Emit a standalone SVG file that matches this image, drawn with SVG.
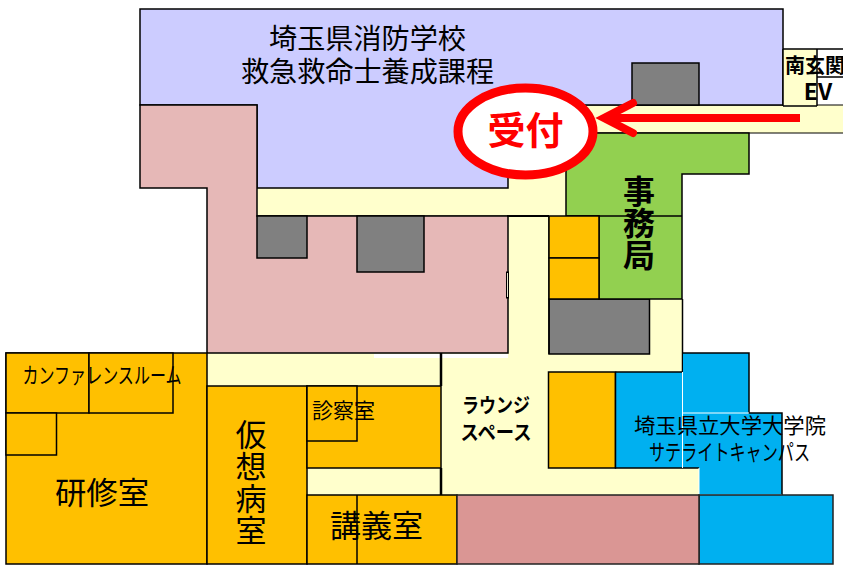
<svg xmlns="http://www.w3.org/2000/svg" width="843" height="567" viewBox="0 0 843 567">
<style>
.r{stroke:#000;stroke-width:1.5}
.o{fill:#ffc000}.y{fill:#ffffcc}.g{fill:#808080}.b{fill:#00b0f0}.p{fill:#e6b8b7}.v{fill:#ccccff}.n{fill:#92d050}
text{font-family:"Noto Sans CJK JP","Noto Sans",sans-serif;fill:#000;text-anchor:middle}
.h{font-weight:700}
.t{writing-mode:vertical-rl}
</style>
<rect width="843" height="567" fill="#fff"/>
<g id="corridors">
<polygon class="y" points="585,105 843,105 843,133 566,133 566,216 549,216 549,299 682,299 682,372 549,372 549,468 699,468 699,495 307,495 307,468 441,468 441,386 207,386 207,353 508,353 508,216 257,216 257,188 508,188 508,179 585,133"/>
<path d="M583 105H843M566 133H843M257 216H549" fill="none" stroke="#000" stroke-width="1"/>
<path d="M682.500 299V372" fill="none" stroke="#000" stroke-width="1.500"/>
</g>
<g id="gakko"><polygon class="v r" points="140,9 783,9 783,105 508,105 508,188 257,188 257,105 140,105"/>
<text x="367.500" y="49" font-size="28" textLength="197" lengthAdjust="spacingAndGlyphs">埼玉県消防学校</text>
<text x="367.500" y="82" font-size="28" textLength="253" lengthAdjust="spacingAndGlyphs">救急救命士養成課程</text></g>
<g id="pink"><polygon class="p r" points="140,105 257,105 257,216 508,216 508,353 207,353 207,188 140,188"/></g>
<g id="grays">
<rect class="g r" x="632" y="63" width="67" height="42"/>
<rect class="g r" x="257" y="216" width="50" height="42"/>
<rect class="g r" x="357" y="216" width="67" height="56"/>
<rect class="g r" x="549" y="299" width="100.500" height="55"/>
</g>
<rect id="door" x="506.500" y="272" width="2" height="26" fill="#e6e6d0" stroke="#000" stroke-width="1"/>
<path id="corridor-top" d="M507 216H549" stroke="#000" stroke-width="2"/>
<path id="corridor-right" d="M549 216V354" stroke="#000" stroke-width="1.500"/>
<g id="gaps"><rect x="374" y="354" width="66" height="4" fill="#fff"/><rect x="442" y="354" width="66" height="4" fill="#fff"/></g>
<g id="jimukyoku"><polygon class="n r" points="566,133 749,133 749,174 682,174 682,299 599,299 599,216 566,216"/>
<path d="M566 216H682" stroke="#000" stroke-width="1.500"/>
<text class="h t" x="639" y="222.500" font-size="32">事務局</text></g>
<g id="rooms-small">
<rect class="o r" x="549" y="216" width="50" height="42"/>
<rect class="o r" x="549" y="258" width="50" height="41"/>
</g>
<g id="kenshu"><rect class="o r" x="6" y="353" width="201" height="211"/>
<rect class="o r" x="6" y="353" width="83" height="60"/>
<rect class="o r" x="89" y="353" width="84" height="60"/>
<rect class="o r" x="6" y="413" width="50.500" height="42"/>
<text x="102" y="383" font-size="22" textLength="159" lengthAdjust="spacingAndGlyphs">カンファレンスルーム</text>
<text x="102" y="504" font-size="31" textLength="94" lengthAdjust="spacingAndGlyphs">研修室</text></g>
<g id="kaso"><rect class="o r" x="207" y="386" width="100" height="178"/>
<text class="t" x="251" y="483" font-size="31" letter-spacing="1">仮想病室</text></g>
<g id="shinsatsu"><rect class="o r" x="307" y="386" width="134" height="82"/>
<rect class="o r" x="307" y="386" width="50" height="55"/>
<text x="343.500" y="418" font-size="21" textLength="63" lengthAdjust="spacingAndGlyphs">診察室</text></g>
<g id="kogi"><rect class="o r" x="307" y="495" width="150" height="69"/>
<path d="M357 495V564" stroke="#000" stroke-width="1.500"/>
<text x="376.500" y="537" font-size="31" textLength="93" lengthAdjust="spacingAndGlyphs">講義室</text></g>
<path id="lounge-wall" d="M441 353V386M441 468V495" stroke="#000" stroke-width="2.500"/>
<g id="lounge"><text class="h" x="496" y="413" font-size="20" textLength="68" lengthAdjust="spacingAndGlyphs">ラウンジ</text>
<text class="h" x="496" y="440" font-size="20" textLength="71" lengthAdjust="spacingAndGlyphs">スペース</text></g>
<g id="store"><rect class="o r" x="548.500" y="372" width="67" height="96"/></g>
<g id="satellite">
<polygon class="b" points="615.500,372 683,372 683,353 749,353 749,413 782,413 782,495 699,495 699,468 615.500,468"/>
<path d="M615.500 372H682M615.500 372V468H699M682 353H749V413H782V495" fill="none" stroke="#000" stroke-width="1.500"/>
<path d="M682.500 372V468M683 413H749M699 468V495M699 495H782" fill="none" stroke="#fff" stroke-width="1"/>
<rect class="b" x="699" y="495" width="134" height="69" stroke="#222" stroke-width="1.500"/>
<text x="730" y="433" font-size="21" textLength="192" lengthAdjust="spacingAndGlyphs">埼玉県立大学大学院</text>
<text x="729.500" y="460" font-size="22" textLength="161" lengthAdjust="spacingAndGlyphs">サテライトキャンパス</text></g>
<g id="pinkroom"><rect x="457" y="495" width="242" height="69" fill="#da9694" stroke="#222" stroke-width="1.500"/></g>
<g id="south"><rect class="y" x="783" y="49" width="34" height="57"/>
<path d="M783 49H843M783 106H817M783 49V106M817 49V106M817 77H843" fill="none" stroke="#000" stroke-width="1.500"/>
<text class="h" x="785" y="73" font-size="20" style="text-anchor:start">南玄関</text>
<text class="h" x="818" y="100" font-size="23">EV</text></g>
<g id="uketsuke"><ellipse cx="525.500" cy="131.500" rx="67.500" ry="43.500" fill="#fff" stroke="#f00" stroke-width="9"/>
<text class="h" x="525.500" y="144" font-size="38" style="fill:#f00">受付</text></g>
<g id="connectors">
<path d="M800 118H608" fill="none" stroke="#f00" stroke-width="8"/>
<path d="M633 103 604 118 633 133" fill="none" stroke="#f00" stroke-width="8" stroke-linecap="round"/>
</g>
</svg>
